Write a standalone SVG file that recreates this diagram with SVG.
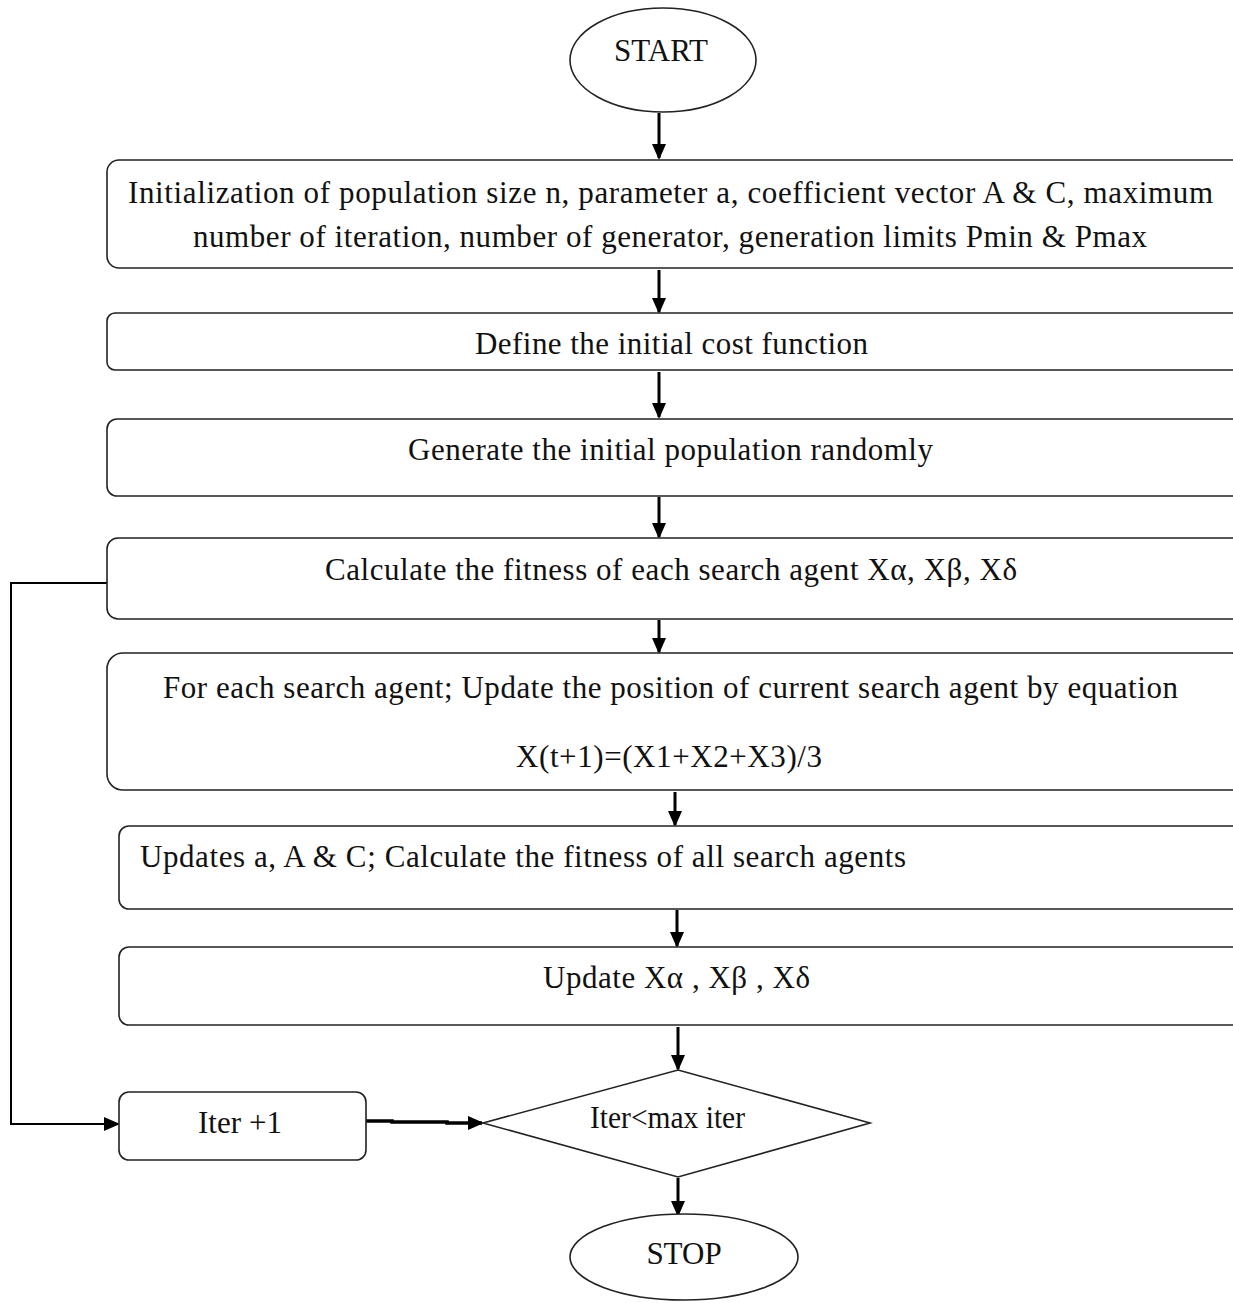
<svg xmlns="http://www.w3.org/2000/svg" width="1233" height="1303" viewBox="0 0 1233 1303">
<defs>
<style>
.n{fill:#fff;stroke:#222;stroke-width:1.6}
.t{font-family:"Liberation Serif","Times New Roman",serif;font-size:31px;fill:#111}
.c{fill:none;stroke:#000;stroke-width:3}
.l{fill:none;stroke:#000;stroke-width:2}
</style>
<marker id="av" markerWidth="16" markerHeight="16" refX="14" refY="8" orient="auto" markerUnits="userSpaceOnUse" viewBox="0 0 16 16">
<path d="M0,1 L16,8 L0,15 Z" fill="#000"/>
</marker>
</defs>
<rect width="1233" height="1303" fill="#fff"/>
<g id="connectors">
<line class="c" x1="659" y1="113" x2="659" y2="158" marker-end="url(#av)"/>
<line class="c" x1="659" y1="270" x2="659" y2="312" marker-end="url(#av)"/>
<line class="c" x1="659" y1="372" x2="659" y2="417" marker-end="url(#av)"/>
<line class="c" x1="659" y1="497" x2="659" y2="537" marker-end="url(#av)"/>
<line class="c" x1="659" y1="620" x2="659" y2="652" marker-end="url(#av)"/>
<line class="c" x1="675" y1="792" x2="675" y2="825" marker-end="url(#av)"/>
<line class="c" x1="677" y1="910" x2="677" y2="946" marker-end="url(#av)"/>
<line class="c" x1="678" y1="1027" x2="678" y2="1069" marker-end="url(#av)"/>
<line class="c" x1="678" y1="1178" x2="678" y2="1215" marker-end="url(#av)"/>
<polyline class="l" points="107,583 11,583 11,1124 118,1124" marker-end="url(#av)"/>
<polyline points="366,1121 392,1121 392,1122 447,1122 447,1123 482,1123" fill="none" stroke="#000" stroke-width="3.5" marker-end="url(#av)"/>
</g>
<g id="start">
<ellipse class="n" cx="663" cy="60" rx="93" ry="52"/>
<text class="t" x="661" y="61" text-anchor="middle">START</text>
</g>
<g id="init">
<rect class="n" x="107" y="160" width="1140" height="108" rx="12"/>
<text class="t" x="128" y="203" textLength="1085" lengthAdjust="spacing">Initialization of population size n, parameter a, coefficient vector A &amp; C, maximum</text>
<text class="t" x="193" y="247" textLength="954" lengthAdjust="spacing">number of iteration, number of generator, generation limits Pmin &amp; Pmax</text>
</g>
<g id="define">
<rect class="n" x="107" y="313" width="1140" height="57" rx="8"/>
<text class="t" x="475" y="354" textLength="393" lengthAdjust="spacing">Define the initial cost function</text>
</g>
<g id="generate">
<rect class="n" x="107" y="419" width="1140" height="77" rx="10"/>
<text class="t" x="408" y="460" textLength="525" lengthAdjust="spacing">Generate the initial population randomly</text>
</g>
<g id="fitness">
<rect class="n" x="107" y="538" width="1140" height="81" rx="11"/>
<text class="t" x="325" y="580" textLength="692" lengthAdjust="spacing">Calculate the fitness of each search agent Xα, Xβ, Xδ</text>
</g>
<g id="update-pos">
<rect class="n" x="107" y="653" width="1140" height="137" rx="16"/>
<text class="t" x="163" y="698" textLength="1015" lengthAdjust="spacing">For each search agent; Update the position of current search agent by equation</text>
<text class="t" x="516" y="767" textLength="306" lengthAdjust="spacing">X(t+1)=(X1+X2+X3)/3</text>
</g>
<g id="updates">
<rect class="n" x="119" y="826" width="1128" height="83" rx="10"/>
<text class="t" x="140" y="867" textLength="766" lengthAdjust="spacing">Updates a, A &amp; C; Calculate the fitness of all search agents</text>
</g>
<g id="update-x">
<rect class="n" x="119" y="947" width="1128" height="78" rx="10"/>
<text class="t" x="543" y="988" textLength="267" lengthAdjust="spacing">Update Xα , Xβ , Xδ</text>
</g>
<g id="iter">
<rect class="n" x="119" y="1092" width="247" height="68" rx="10"/>
<text class="t" x="198" y="1133" textLength="84" lengthAdjust="spacing">Iter +1</text>
</g>
<g id="decision">
<polygon class="n" points="678,1070 870,1123 678,1177 483,1123"/>
<text class="t" x="590" y="1128" textLength="155" lengthAdjust="spacingAndGlyphs">Iter&lt;max iter</text>
</g>
<g id="stop">
<ellipse class="n" cx="684" cy="1257" rx="114" ry="43"/>
<text class="t" x="684" y="1264" text-anchor="middle">STOP</text>
</g>
</svg>
